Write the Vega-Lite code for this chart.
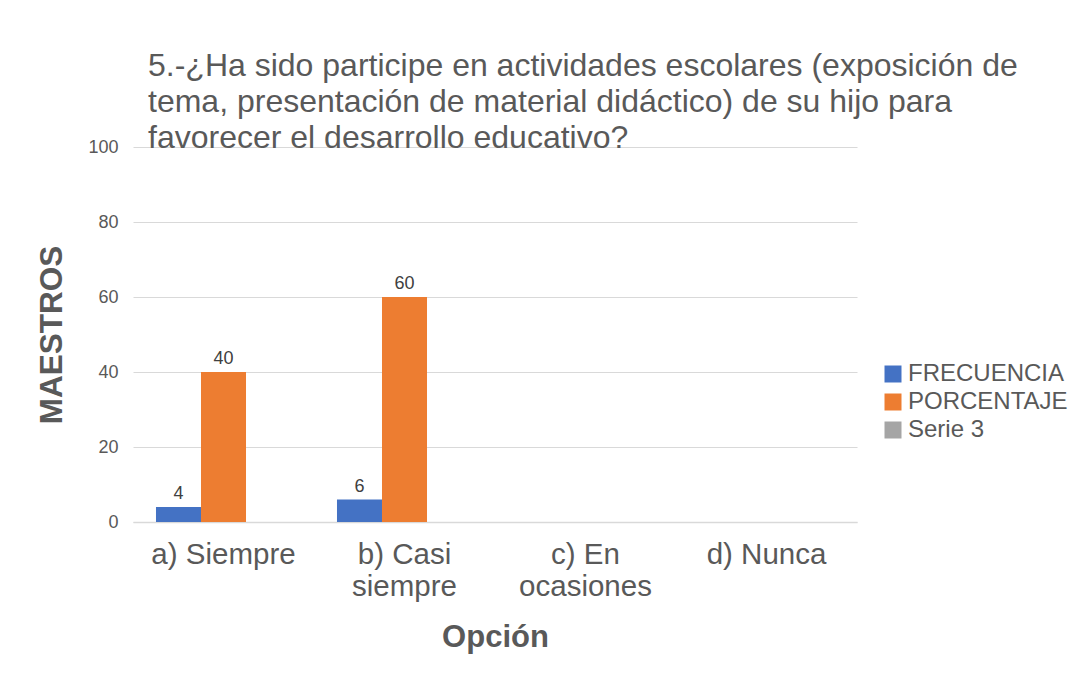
{
  "$schema": "https://vega.github.io/schema/vega-lite/v6.json",
  "width": 724,
  "height": 375,
  "autosize": {"type": "none"},
  "padding": {"left": 133, "top": 147, "right": 232, "bottom": 151},
  "background": "white",
  "config": {
    "font": "Liberation Sans",
    "view": {"stroke": null}
  },
  "title": {
    "text": ["5.-¿Ha sido participe en actividades escolares (exposición de", "tema, presentación de material didáctico) de su hijo para", "favorecer el desarrollo educativo?"],
    "anchor": "start",
    "frame": "group",
    "dx": 15,
    "offset": -17,
    "fontSize": 32,
    "lineHeight": 36,
    "fontWeight": "normal",
    "color": "#595959",
    "font": "Liberation Sans"
  },
  "data": {
    "values": [
      {"opcion": "a) Siempre", "serie": "FRECUENCIA", "valor": 4},
      {"opcion": "a) Siempre", "serie": "PORCENTAJE", "valor": 40},
      {"opcion": "a) Siempre", "serie": "Serie 3", "valor": 0},
      {"opcion": "b) Casi siempre", "serie": "FRECUENCIA", "valor": 6},
      {"opcion": "b) Casi siempre", "serie": "PORCENTAJE", "valor": 60},
      {"opcion": "b) Casi siempre", "serie": "Serie 3", "valor": 0},
      {"opcion": "c) En ocasiones", "serie": "FRECUENCIA", "valor": 0},
      {"opcion": "c) En ocasiones", "serie": "PORCENTAJE", "valor": 0},
      {"opcion": "c) En ocasiones", "serie": "Serie 3", "valor": 0},
      {"opcion": "d) Nunca", "serie": "FRECUENCIA", "valor": 0},
      {"opcion": "d) Nunca", "serie": "PORCENTAJE", "valor": 0},
      {"opcion": "d) Nunca", "serie": "Serie 3", "valor": 0}
    ]
  },
  "encoding": {
    "x": {
      "field": "opcion",
      "type": "nominal",
      "sort": null,
      "scale": {"paddingInner": 0.254, "paddingOuter": 0.127},
      "axis": {
        "title": "Opción",
        "titleFontSize": 31,
        "titleFontWeight": "bold",
        "titleColor": "#595959",
        "titlePadding": 22,
        "labelAngle": 0,
        "labelFontSize": 29.5,
        "labelColor": "#595959",
        "labelPadding": 18,
        "labelLineHeight": 32,
        "labelExpr": "datum.value == 'b) Casi siempre' ? ['b) Casi', 'siempre'] : datum.value == 'c) En ocasiones' ? ['c) En', 'ocasiones'] : datum.value",
        "ticks": false,
        "domainColor": "#D9D9D9",
        "domainWidth": 1.5
      }
    },
    "xOffset": {"field": "serie", "type": "nominal", "sort": ["FRECUENCIA", "PORCENTAJE", "Serie 3"], "scale": {"paddingInner": 0, "paddingOuter": 0}},
    "y": {
      "field": "valor",
      "type": "quantitative",
      "scale": {"domain": [0, 100]},
      "axis": {
        "title": "MAESTROS",
        "titleFontSize": 31.5,
        "titleFontWeight": "bold",
        "titleColor": "#595959",
        "titlePadding": 19,
        "values": [0, 20, 40, 60, 80, 100],
        "labelFontSize": 18,
        "labelColor": "#595959",
        "labelPadding": 15,
        "ticks": false,
        "domain": false,
        "gridColor": "#D9D9D9",
        "gridWidth": 1
      }
    }
  },
  "layer": [
    {
      "mark": {"type": "bar"},
      "encoding": {
        "color": {
          "field": "serie",
          "type": "nominal",
          "sort": ["FRECUENCIA", "PORCENTAJE", "Serie 3"],
          "scale": {"domain": ["FRECUENCIA", "PORCENTAJE", "Serie 3"], "range": ["#4472C4", "#ED7D31", "#A5A5A5"]},
          "legend": {
            "title": null,
            "orient": "none",
            "legendX": 748,
            "legendY": 215,
            "symbolType": "square",
            "symbolSize": 289,
            "symbolStrokeWidth": 0,
            "labelFontSize": 24,
            "labelColor": "#595959",
            "labelOffset": 3,
            "rowPadding": 4
          }
        }
      }
    },
    {
      "transform": [{"filter": "datum.valor > 0"}],
      "mark": {"type": "text", "baseline": "bottom", "dy": -4, "fontSize": 18, "color": "#404040"},
      "encoding": {
        "text": {"field": "valor", "type": "quantitative"}
      }
    }
  ]
}
